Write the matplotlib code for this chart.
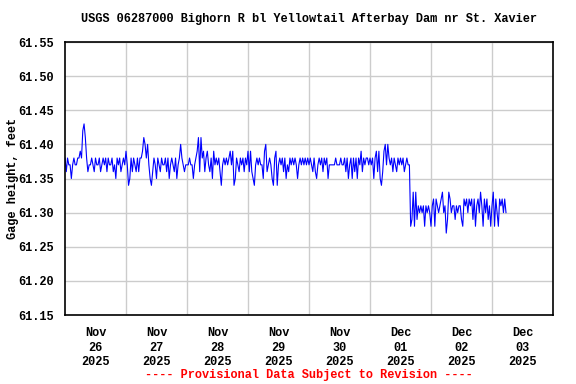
import numpy as np
import matplotlib
matplotlib.use("Agg")
import matplotlib.pyplot as plt
import matplotlib.dates as mdates
from datetime import datetime, timedelta

# Gage height, hundredths of a foot above 61.00, every 30 minutes
nov26 = [38, 36, 38, 37, 37, 35, 37, 38, 37, 37, 38, 38, 39, 38, 42, 43, 41, 38, 36, 37,
         37, 38, 37, 36, 38, 37, 37, 38, 36, 37, 38, 37, 38, 36, 38, 37, 37, 38, 36, 37,
         35, 38, 37, 38, 36, 37, 38, 37]
nov27 = [39, 37, 34, 35, 38, 36, 38, 37, 36, 38, 36, 38, 38, 39, 41, 40, 38, 40, 37, 35,
         34, 36, 38, 37, 35, 38, 37, 36, 38, 37, 37, 38, 36, 38, 35, 37, 38, 37, 36, 38,
         35, 37, 38, 40, 38, 37, 36, 37]
nov28 = [37, 37, 38, 37, 37, 35, 37, 38, 39, 41, 36, 41, 38, 39, 36, 38, 39, 37, 36, 38,
         35, 39, 37, 38, 37, 38, 36, 34, 37, 38, 37, 38, 37, 38, 39, 37, 39, 34, 35, 38,
         37, 36, 38, 37, 38, 36, 38, 37]
nov29 = [39, 36, 39, 36, 35, 34, 37, 38, 37, 38, 37, 37, 35, 39, 40, 36, 37, 38, 37, 35,
         34, 38, 39, 34, 37, 38, 37, 38, 36, 38, 35, 37, 36, 38, 37, 38, 37, 38, 37, 35,
         37, 38, 37, 38, 37, 38, 37, 38]
nov30 = [37, 38, 37, 36, 38, 36, 35, 37, 38, 37, 38, 36, 38, 37, 38, 35, 37, 37, 37, 37,
         37, 38, 37, 37, 37, 38, 37, 37, 38, 36, 38, 35, 37, 38, 35, 38, 36, 38, 35, 38,
         37, 39, 36, 38, 37, 38, 38, 37]
dec01 = [38, 37, 38, 35, 38, 39, 36, 39, 35, 34, 36, 39, 40, 37, 40, 38, 37, 38, 36, 38,
         37, 36, 38, 37, 38, 37, 38, 36, 37, 38, 37, 37, 28, 29, 33, 28, 33, 29, 31, 30,
         31, 30, 31, 28, 31, 30, 31, 30]
dec02 = [28, 31, 32, 28, 32, 31, 30, 31, 32, 33, 30, 31, 27, 29, 33, 32, 30, 31, 31, 29,
         31, 30, 31, 31, 29, 28, 32, 31, 32, 30, 32, 31, 32, 29, 32, 28, 31, 32, 30, 33,
         31, 28, 32, 30, 32, 29, 31, 28]
dec03 = [31, 33, 28, 32, 30, 28, 32, 31, 32, 30, 32, 30]

tick_days = ["Nov\n26\n2025", "Nov\n27\n2025", "Nov\n28\n2025", "Nov\n29\n2025",
             "Nov\n30\n2025", "Dec\n01\n2025", "Dec\n02\n2025", "Dec\n03\n2025"]

gage = 61.0 + np.array(nov26 + nov27 + nov28 + nov29 + nov30 + dec01 + dec02 + dec03) / 100.0
start = datetime(2025, 11, 26)
times = [start + timedelta(minutes=30 * i) for i in range(len(gage))]

font = ["Liberation Mono", "DejaVu Sans Mono"]
plt.rcParams["font.family"] = font
plt.rcParams["font.weight"] = "bold"
plt.rcParams["font.size"] = 8.6

fig = plt.figure(figsize=(5.76, 3.84), dpi=100)
ax = fig.add_axes([65 / 576, 1 - 315 / 384, 488 / 576, 273 / 384])

ax.plot(times, gage, color="#0000ff", linewidth=0.8)

x0 = mdates.date2num(start)
ax.set_xlim(x0, x0 + 8)
ax.set_ylim(61.15, 61.55)

ax.set_xticks([x0 + d + 0.5 for d in range(8)])
ax.set_xticklabels(tick_days, linespacing=1.25)
ax.set_xticks([x0 + d for d in range(1, 8)], minor=True)
ax.set_yticks(np.arange(61.15, 61.551, 0.05))
ax.set_yticklabels(["%.2f" % v for v in np.arange(61.15, 61.551, 0.05)])

ax.grid(False)
ax.grid(True, which="minor", axis="x", color="#cccccc", linewidth=1)
ax.grid(True, which="major", axis="y", color="#cccccc", linewidth=1)
ax.set_axisbelow(True)
ax.tick_params(which="both", length=0)
ax.tick_params(axis="x", pad=9)
ax.tick_params(axis="y", pad=8)
for s in ax.spines.values():
    s.set_linewidth(1.2)

fig.text(13 / 576, 1 - 178 / 384, "Gage height, feet", rotation=90, ha="center", va="center")
fig.text(309 / 576, 1 - 19 / 384, "USGS 06287000 Bighorn R bl Yellowtail Afterbay Dam nr St. Xavier",
         ha="center", va="center")
fig.text(309 / 576, 1 - 375 / 384, "---- Provisional Data Subject to Revision ----",
         ha="center", va="center", color="red")

fig.savefig("out.png", dpi=100)
